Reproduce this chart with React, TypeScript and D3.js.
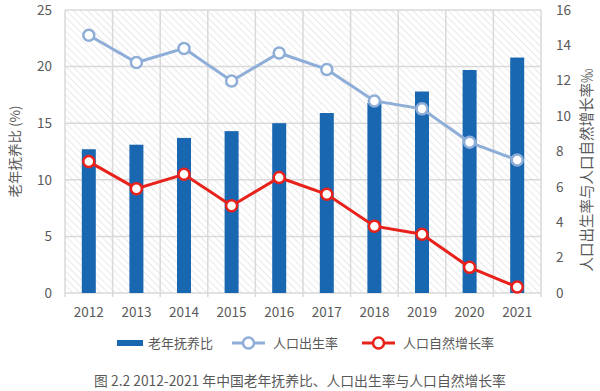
import { useEffect, useRef } from "react";
import * as d3 from "d3";

// data
const years = ["2012", "2013", "2014", "2015", "2016", "2017", "2018", "2019", "2020", "2021"];
const oldAgeRatio = [12.7, 13.1, 13.7, 14.3, 15.0, 15.9, 16.8, 17.8, 19.7, 20.8];
const birthRate = [14.57, 13.03, 13.83, 11.99, 13.57, 12.64, 10.86, 10.41, 8.52, 7.52];
const growthRate = [7.43, 5.9, 6.71, 4.93, 6.53, 5.58, 3.78, 3.32, 1.45, 0.34];
const leftTicks = [0, 5, 10, 15, 20, 25];
const rightTicks = [0, 2, 4, 6, 8, 10, 12, 14, 16];

const W = 600;
const H = 391;
const margin = { top: 10, right: 59, bottom: 98, left: 65 };
const FONT = "'Noto Sans CJK SC', 'Noto Sans', sans-serif";
const GRID = "#d9d9d9";
const TEXT = "#595959";
const BAR = "#1a67b1";
const BLUE = "#8eaed8";
const RED = "#e8211b";

export default function App() {
  const svgRef = useRef<SVGSVGElement>(null);

  useEffect(() => {
    const svg = d3.select(svgRef.current);
    svg.selectAll("*").remove();

    const innerW = W - margin.left - margin.right;
    const innerH = H - margin.top - margin.bottom;

    // hatch pattern for plot background
    const defs = svg.append("defs");
    const pat = defs.append("pattern")
      .attr("id", "hatch")
      .attr("patternUnits", "userSpaceOnUse")
      .attr("width", 5)
      .attr("height", 5)
      .attr("patternTransform", "rotate(-45)");
    pat.append("line")
      .attr("x1", 0).attr("y1", 0).attr("x2", 0).attr("y2", 5)
      .attr("stroke", "#d6d6d6")
      .attr("stroke-width", 1.1);

    const g = svg.append("g").attr("transform", `translate(${margin.left},${margin.top})`);

    const x = d3.scaleBand().domain(years).range([0, innerW]);
    const yL = d3.scaleLinear().domain([0, 25]).range([innerH, 0]);
    const yR = d3.scaleLinear().domain([0, 16]).range([innerH, 0]);

    g.append("rect")
      .attr("width", innerW)
      .attr("height", innerH)
      .attr("fill", "url(#hatch)");

    // horizontal grid
    g.selectAll(".hgrid")
      .data(leftTicks)
      .enter()
      .append("line")
      .attr("x1", 0).attr("x2", innerW)
      .attr("y1", d => yL(d)).attr("y2", d => yL(d))
      .attr("stroke", GRID).attr("stroke-width", 1.5);

    // vertical grid at category boundaries (with ticks below the axis)
    const bounds = years.map(d => x(d) as number).concat([innerW]);
    g.selectAll(".vgrid")
      .data(bounds)
      .enter()
      .append("line")
      .attr("x1", d => d).attr("x2", d => d)
      .attr("y1", 0).attr("y2", innerH + 4)
      .attr("stroke", GRID).attr("stroke-width", 1.5);

    // left ticks
    g.selectAll(".lt")
      .data(leftTicks)
      .enter()
      .append("text")
      .attr("x", -13)
      .attr("y", d => yL(d))
      .attr("dy", "0.35em")
      .attr("text-anchor", "end")
      .attr("font-size", 13.5)
      .attr("fill", TEXT)
      .text(d => d);

    // right ticks
    g.selectAll(".rt")
      .data(rightTicks)
      .enter()
      .append("text")
      .attr("x", innerW + 15)
      .attr("y", d => yR(d))
      .attr("dy", "0.35em")
      .attr("font-size", 13.5)
      .attr("fill", TEXT)
      .text(d => d);

    // x labels
    g.selectAll(".xt")
      .data(years)
      .enter()
      .append("text")
      .attr("x", d => (x(d) as number) + x.bandwidth() / 2)
      .attr("y", innerH + 19)
      .attr("dy", "0.35em")
      .attr("text-anchor", "middle")
      .attr("font-size", 13.5)
      .attr("fill", TEXT)
      .text(d => d);

    // bars
    const bw = 14;
    g.selectAll(".bar")
      .data(oldAgeRatio)
      .enter()
      .append("rect")
      .attr("x", (_, i) => (x(years[i]) as number) + x.bandwidth() / 2 - bw / 2)
      .attr("y", d => yL(d))
      .attr("width", bw)
      .attr("height", d => innerH - yL(d))
      .attr("fill", BAR);

    const cx = (i: number) => (x(years[i]) as number) + x.bandwidth() / 2;

    const drawLine = (vals: number[], color: string) => {
      const line = d3.line<number>()
        .x((_, i) => cx(i))
        .y(d => yR(d));
      g.append("path")
        .datum(vals)
        .attr("d", line)
        .attr("fill", "none")
        .attr("stroke", color)
        .attr("stroke-width", 3);
      g.selectAll(null)
        .data(vals)
        .enter()
        .append("circle")
        .attr("cx", (_, i) => cx(i))
        .attr("cy", d => yR(d))
        .attr("r", 5.5)
        .attr("fill", "#fff")
        .attr("stroke", color)
        .attr("stroke-width", 2.5);
    };
    drawLine(birthRate, BLUE);
    drawLine(growthRate, RED);

    // axis titles
    svg.append("text")
      .attr("transform", `translate(15,${margin.top + innerH / 2}) rotate(-90)`)
      .attr("text-anchor", "middle")
      .attr("dy", "0.35em")
      .attr("font-size", 13.5)
      .attr("fill", TEXT)
      .text("老年抚养比 (%)");

    svg.append("text")
      .attr("transform", `translate(587,170) rotate(-90)`)
      .attr("text-anchor", "middle")
      .attr("dy", "0.35em")
      .attr("font-size", 14.5)
      .attr("fill", TEXT)
      .text("人口出生率与人口自然增长率‰");

    // legend
    const ly = 343;
    const leg = svg.append("g");
    leg.append("rect").attr("x", 117).attr("y", ly - 3).attr("width", 26).attr("height", 6).attr("fill", BAR);
    leg.append("text").attr("x", 148).attr("y", ly).attr("dy", "0.35em")
      .attr("font-size", 13).attr("fill", TEXT).text("老年抚养比");

    const legLine = (x0: number, color: string, label: string) => {
      leg.append("line").attr("x1", x0).attr("x2", x0 + 33).attr("y1", ly).attr("y2", ly)
        .attr("stroke", color).attr("stroke-width", 3);
      leg.append("circle").attr("cx", x0 + 16.5).attr("cy", ly).attr("r", 5.5)
        .attr("fill", "#fff").attr("stroke", color).attr("stroke-width", 2.5);
      leg.append("text").attr("x", x0 + 41).attr("y", ly).attr("dy", "0.35em")
        .attr("font-size", 13).attr("fill", TEXT).text(label);
    };
    legLine(232, BLUE, "人口出生率");
    legLine(362, RED, "人口自然增长率");

    // caption
    svg.append("text")
      .attr("x", 300)
      .attr("y", 381)
      .attr("dy", "0.35em")
      .attr("text-anchor", "middle")
      .attr("font-size", 13.8)
      .attr("fill", TEXT)
      .text("图 2.2 2012-2021 年中国老年抚养比、人口出生率与人口自然增长率");
  }, []);

  return (
    <svg
      ref={svgRef}
      width={W}
      height={H}
      viewBox={`0 0 ${W} ${H}`}
      style={{ position: "absolute", left: 0, top: 0, fontFamily: FONT, background: "#fff" }}
    />
  );
}
